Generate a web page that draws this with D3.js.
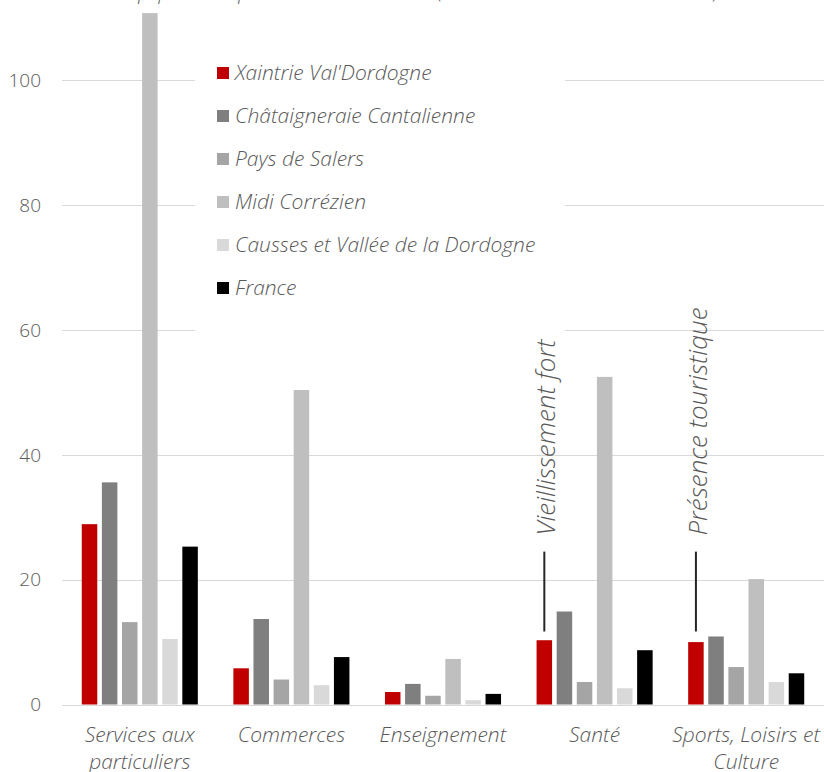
<!DOCTYPE html>
<html>
<head>
<meta charset="utf-8">
<script src="https://cdn.jsdelivr.net/npm/d3@7/dist/d3.min.js"></script>
<style>
  body { margin: 0; background: #fff; }
  svg { display: block; font-family: "Open Sans", Lato, sans-serif; }
  .tick-label { fill: #595959; font-size: 19px; font-weight: 300; }
  .cat-label { fill: #595959; font-size: 21px; font-style: italic; font-weight: 300; }
  .legend-label { fill: #595959; font-size: 21px; font-style: italic; font-weight: 300; }
  .note { fill: #595959; font-size: 26px; font-style: italic; font-weight: 300; }
</style>
</head>
<body>
<div id="chart"></div>
<script>
// data
var categories = ["Services aux particuliers", "Commerces", "Enseignement", "Santé", "Sports, Loisirs et Culture"];
var categoryLines = [["Services aux", "particuliers"], ["Commerces"], ["Enseignement"], ["Santé"], ["Sports, Loisirs et", "Culture"]];
var seriesNames = ["Xaintrie Val'Dordogne", "Châtaigneraie Cantalienne", "Pays de Salers", "Midi Corrézien", "Causses et Vallée de la Dordogne", "France"];
var seriesColors = ["#c00000", "#7f7f7f", "#a5a5a5", "#bfbfbf", "#d9d9d9", "#000000"];

var xaintrie = [28.9, 5.8, 2.0, 10.3, 10.0];
var chataigneraie = [35.6, 13.7, 3.3, 14.9, 10.9];
var salers = [13.2, 4.0, 1.4, 3.6, 6.0];
var midiCorrezien = [110.8, 50.4, 7.3, 52.5, 20.1];
var causses = [10.5, 3.1, 0.7, 2.6, 3.6];
var france = [25.3, 7.6, 1.7, 8.7, 5.0];

var yTicks = [0, 20, 40, 60, 80, 100, 120];
var title = "Nombre d'équipements pour 10 000 habitants (source : INSEE - BPE et RP 2016)";

// notes pinned above the first series bar of a category (line from / to, in axis units)
var notes = [
  {category: "Santé", text: "Vieillissement fort", from: 11.7, to: 24.5},
  {category: "Sports, Loisirs et Culture", text: "Présence touristique", from: 11.7, to: 24.5}
];

var allSeries = [xaintrie, chataigneraie, salers, midiCorrezien, causses, france];

var width = 824, height = 772;
var margin = {top: 0, right: 2, bottom: 67, left: 64};

var svg = d3.select("#chart").append("svg")
    .attr("width", width)
    .attr("height", height);

var x0 = d3.scaleBand()
    .domain(categories)
    .range([margin.left, width - margin.right])
    .paddingInner(0.204)
    .paddingOuter(0.102);

var x1 = d3.scaleBand()
    .domain(seriesNames)
    .range([0, x0.bandwidth()])
    .paddingInner(0.229)
    .paddingOuter(0.1145);

var y = d3.scaleLinear()
    .domain([0, 120])
    .range([height - margin.bottom - 0.5, height - margin.bottom - 0.5 - 120 * 6.24]);

// gridlines
svg.append("g").selectAll("line")
    .data(yTicks)
    .join("line")
    .attr("x1", 62)
    .attr("x2", width)
    .attr("y1", function(d) { return Math.round(y(d)) + 0.5; })
    .attr("y2", function(d) { return Math.round(y(d)) + 0.5; })
    .attr("stroke", "#d9d9d9")
    .attr("stroke-width", 1.2);

svg.append("g").selectAll("text")
    .data(yTicks)
    .join("text")
    .attr("class", "tick-label")
    .attr("x", 41)
    .attr("y", function(d) { return y(d); })
    .attr("dy", "0.35em")
    .attr("text-anchor", "end")
    .text(function(d) { return d; });

// bars
var groups = svg.append("g").selectAll("g")
    .data(categories)
    .join("g")
    .attr("transform", function(d) { return "translate(" + x0(d) + ",0)"; });

groups.selectAll("rect")
    .data(function(c, i) {
      return seriesNames.map(function(s, j) { return {series: s, value: allSeries[j][i], color: seriesColors[j]}; });
    })
    .join("rect")
    .attr("x", function(d) { return x1(d.series); })
    .attr("width", x1.bandwidth())
    .attr("y", function(d) { return y(d.value); })
    .attr("height", function(d) { return y(0) - y(d.value); })
    .attr("fill", function(d) { return d.color; });

// category labels
var catLabels = svg.append("g").selectAll("text")
    .data(categories)
    .join("text")
    .attr("class", "cat-label")
    .attr("text-anchor", "middle")
    .attr("x", function(d) { return x0(d) + x0.bandwidth() / 2; })
    .attr("y", 742);

catLabels.selectAll("tspan")
    .data(function(d, i) { return categoryLines[i]; })
    .join("tspan")
    .attr("x", function() { return d3.select(this.parentNode).attr("x"); })
    .attr("dy", function(d, i) { return i === 0 ? 0 : 27; })
    .text(function(d) { return d; });

// title, mostly cut off by the top edge
svg.append("text")
    .attr("x", 30)
    .attr("y", -1)
    .attr("fill", "#595959")
    .style("font-size", "20px")
    .style("font-style", "italic")
    .style("font-weight", 300)
    .text(title);

// legend box sits over the gridlines
var legend = svg.append("g");
legend.append("rect")
    .attr("x", 195)
    .attr("y", 45)
    .attr("width", 370)
    .attr("height", 292)
    .attr("fill", "#fff");

var legendItems = legend.selectAll("g")
    .data(seriesNames)
    .join("g")
    .attr("transform", function(d, i) { return "translate(217," + (73 + i * 43) + ")"; });

legendItems.append("rect")
    .attr("x", 0)
    .attr("y", -6)
    .attr("width", 12)
    .attr("height", 12)
    .attr("fill", function(d, i) { return seriesColors[i]; });

legendItems.append("text")
    .attr("class", "legend-label")
    .attr("x", 18)
    .attr("dy", "0.35em")
    .text(function(d) { return d; });

// annotations
var noteG = svg.append("g").selectAll("g")
    .data(notes)
    .join("g");

function noteX(d) { return x0(d.category) + x1(seriesNames[0]) + x1.bandwidth() / 2; }

noteG.append("line")
    .attr("x1", noteX)
    .attr("x2", noteX)
    .attr("y1", function(d) { return y(d.from); })
    .attr("y2", function(d) { return y(d.to); })
    .attr("stroke", "#262626")
    .attr("stroke-width", 2);

noteG.append("text")
    .attr("class", "note")
    .attr("transform", function(d) { return "translate(" + (noteX(d) + 11) + "," + (y(d.to) - 16) + ") rotate(-90)"; })
    .text(function(d) { return d.text; });
</script>
</body>
</html>
